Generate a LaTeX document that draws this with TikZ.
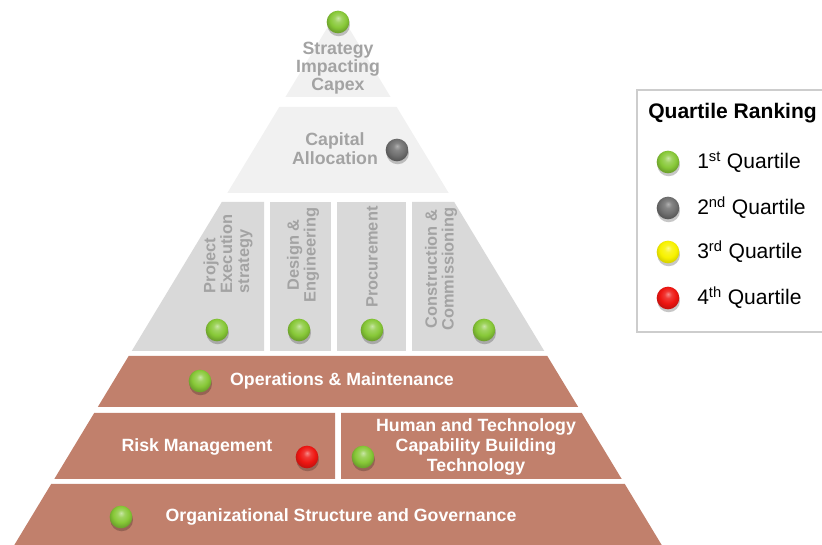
\documentclass[tikz,border=0pt]{standalone}
\usepackage{fontspec}
\setmainfont{Liberation Sans}
\usetikzlibrary{shadows}
\definecolor{brownc}{RGB}{193,128,108}
\definecolor{midgray}{RGB}{217,217,217}
\definecolor{lightgray}{RGB}{241,241,241}
\definecolor{txtgray}{RGB}{163,163,163}
\definecolor{bgreen}{RGB}{135,200,55}
\definecolor{bgray}{RGB}{112,112,112}
\definecolor{byellow}{RGB}{248,242,0}
\definecolor{bred}{RGB}{238,22,18}
\definecolor{legframe}{RGB}{205,205,205}
\pgfdeclareradialshading{greenball}{\pgfpoint{0bp}{9bp}}{color(0bp)=(bgreen!45!white); color(8bp)=(bgreen!80!white); color(18bp)=(bgreen); color(26bp)=(bgreen!82!black); color(50bp)=(bgreen!70!black)}
\pgfdeclareradialshading{grayball}{\pgfpoint{0bp}{9bp}}{color(0bp)=(bgray!55!white); color(8bp)=(bgray!85!white); color(18bp)=(bgray); color(26bp)=(bgray!80!black); color(50bp)=(bgray!70!black)}
\pgfdeclareradialshading{yellowball}{\pgfpoint{0bp}{9bp}}{color(0bp)=(byellow!45!white); color(8bp)=(byellow!85!white); color(18bp)=(byellow); color(26bp)=(byellow!88!black); color(50bp)=(byellow!75!black)}
\pgfdeclareradialshading{redball}{\pgfpoint{0bp}{9bp}}{color(0bp)=(bred!50!white); color(8bp)=(bred!85!white); color(18bp)=(bred); color(26bp)=(bred!85!black); color(50bp)=(bred!70!black)}
\begin{document}
\begin{tikzpicture}[x=0.75pt,y=-0.75pt,
  brownband/.style={fill=brownc,draw=none},
  lightband/.style={fill=lightgray,draw=none},
  midband/.style={fill=midgray,draw=none},
  graytxt/.style={font=\bfseries\fontsize{13.3}{14}\selectfont,text=txtgray,align=center,inner sep=0pt},
  coltxt/.style={font=\bfseries\fontsize{12.3}{12.6}\selectfont,text=txtgray,inner sep=0pt,rotate=90},
  whitetxt/.style={font=\bfseries\fontsize{13.3}{15}\selectfont,text=white,align=center,inner sep=0pt},
  ballnode/.style={circle,minimum size=17pt,inner sep=0pt,draw=none,shade,
    drop shadow={shadow xshift=0.5pt,shadow yshift=-2.2pt,opacity=0.22,fill=black}},
  gball/.style={ballnode,shading=greenball},
  kball/.style={ballnode,shading=grayball},
  yball/.style={ballnode,shading=yellowball},
  rball/.style={ballnode,shading=redball},
  legtxt/.style={font=\fontsize{15.8}{18}\selectfont,anchor=west,inner sep=0pt},
  legtitle/.style={font=\bfseries\fontsize{15.8}{18}\selectfont,anchor=west,inner sep=0pt}
]
\useasboundingbox (0,0) rectangle (822,545);
% --- pyramid shapes ---
\fill[lightband] (338,10) -- (390.6,97) -- (285.4,97) -- cycle;
\fill[lightband] (279.3,107) -- (396.7,107) -- (448.7,193) -- (227.3,193) -- cycle;
\fill[midband] (221.8,202) -- (264,202) -- (264,351) -- (131.7,351) -- cycle;
\fill[midband] (270,202) rectangle (331,351);
\fill[midband] (337,202) rectangle (406,351);
\fill[midband] (412,202) -- (454.2,202) -- (544.3,351) -- (412,351) -- cycle;
\fill[brownband] (128.7,356) -- (547.3,356) -- (578.2,407) -- (97.8,407) -- cycle;
\fill[brownband] (94.2,413) -- (335,413) -- (335,479) -- (54.3,479) -- cycle;
\fill[brownband] (341,413) -- (581.8,413) -- (621.7,479) -- (341,479) -- cycle;
\fill[brownband] (51.2,484) -- (624.8,484) -- (661.7,545) -- (14.3,545) -- cycle;
% --- texts ---
\node[graytxt] (tstrat) at (338,68) {Strategy\\[-0.6pt]Impacting\\[-0.6pt]Capex};
\node[graytxt] (tcap) at (335,148.5) {Capital\\Allocation};
\node[coltxt,align=left] (tproj) at (228,254) {Project\\Execution\\strategy};
\node[coltxt,align=center] (tdes) at (303,255) {Design \&\\Engineering};
\node[coltxt,align=center] (tproc) at (372,257) {Procurement};
\node[coltxt,align=center] (tcons) at (441,269) {Construction \&\\Commissioning};
\node[whitetxt] (tops) at (342,381) {Operations \& Maintenance};
\node[whitetxt] (trisk) at (197,447) {Risk Management};
\node[whitetxt] (thum) at (476,447) {Human and Technology\\Capability Building\\Technology};
\node[whitetxt] (torg) at (341,517) {Organizational Structure and Governance};
% --- balls ---
\node[gball] (b1) at (338,22) {};
\node[kball] (b2) at (397,150) {};
\node[gball] (b3) at (217,330) {};
\node[gball] (b4) at (299,330) {};
\node[gball] (b5) at (372,330) {};
\node[gball] (b6) at (484,330) {};
\node[gball] (b7) at (200,381) {};
\node[rball] (b8) at (307,457) {};
\node[gball] (b9) at (363,457) {};
\node[gball] (b10) at (121,517) {};
% --- legend ---
\draw[legframe,line width=1.2pt,fill=white] (637,90) rectangle (840,332);
\node[legtitle] (ltitle) at (648,113) {Quartile Ranking};
\node[gball] (l1) at (668,162) {};
\node[kball] (l2) at (668,208) {};
\node[yball] (l3) at (668,252) {};
\node[rball] (l4) at (668,298) {};
\node[legtxt] (lt1) at (697,162) {1\textsuperscript{st} Quartile};
\node[legtxt] (lt2) at (697,208) {2\textsuperscript{nd} Quartile};
\node[legtxt] (lt3) at (697,252) {3\textsuperscript{rd} Quartile};
\node[legtxt] (lt4) at (697,298) {4\textsuperscript{th} Quartile};
\end{tikzpicture}
\end{document}
